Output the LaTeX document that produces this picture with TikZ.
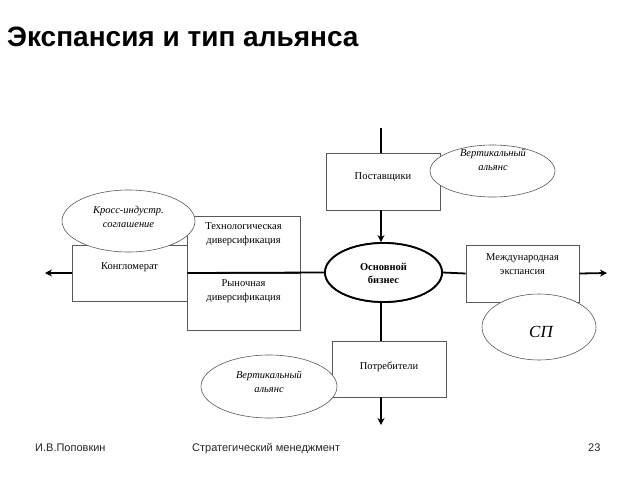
\documentclass[tikz,border=0pt]{standalone}
\usepackage{fontspec}
\setmainfont{Liberation Serif}
\newfontfamily\arialfont{Liberation Sans}
\usetikzlibrary{arrows.meta,shapes.geometric}
\begin{document}
\begin{tikzpicture}[x=1pt,y=-1pt,
  box/.style={draw=black!65,line width=0.6pt,fill=white,inner sep=0pt},
  oval/.style={ellipse,draw=black!65,line width=0.6pt,fill=white,inner sep=0pt},
  core/.style={ellipse,draw=black,line width=1.8pt,fill=white,inner sep=0pt},
  txt/.style={font=\fontsize{10.5}{14}\selectfont,align=center,inner sep=0pt},
  itxt/.style={font=\fontsize{10.5}{14}\selectfont\itshape,align=center,inner sep=0pt},
  conn/.style={line width=1.8pt,black},
  arr/.style={line width=1.8pt,black,-{Stealth[length=7pt,width=7pt]}},
  foot/.style={font=\arialfont\fontsize{11}{13}\selectfont,anchor=base west,inner sep=0pt,text=black!85}
]
\useasboundingbox (0,0) rectangle (640,480);
\fill[white] (0,0) rectangle (640,480);

% title and footer
\node[font=\arialfont\bfseries\fontsize{28}{32}\selectfont,anchor=base west,inner sep=0pt] (title) at (7,46) {Экспансия и тип альянса};
\node[foot] (f1) at (35,451) {И.В.Поповкин};
\node[foot] (f2) at (192,451) {Стратегический менеджмент};
\node[foot] (f3) at (588,451) {23};

% boxes
\node[box,minimum width=114pt,minimum height=57pt] (post) at (383,181.5) {};
\node[box,minimum width=115pt,minimum height=56pt] (kong) at (129.5,273) {};
\node[box,minimum width=113pt,minimum height=57pt] (tech) at (243.5,244.5) {};
\node[box,minimum width=113pt,minimum height=57pt] (ryn) at (243.5,301.5) {};
\node[box,minimum width=113pt,minimum height=57pt] (mezh) at (522.5,273.5) {};
\node[box,minimum width=114pt,minimum height=56pt] (potr) at (389,369) {};

% connectors
\coordinate (topin) at (381,128);
\coordinate (leftend) at (45,273);
\coordinate (rightend) at (607,273);
\coordinate (botend) at (381,425);
\node[core,minimum width=117pt,minimum height=59pt] (corebiz) at (383.5,272.5) {};
\draw[conn] (topin) -- (topin |- post.north);
\draw[arr] (topin |- post.south) -- (topin |- corebiz.north);
\draw[conn] (corebiz.west) -- (kong.east);
\draw[arr] (kong.west) -- (leftend);
\draw[conn] (corebiz.east) -- (mezh.west);
\draw[arr] (mezh.east) -- (rightend);
\draw[conn] (topin |- corebiz.south) -- (topin |- potr.north);
\draw[arr] (topin |- potr.south) -- (botend);
\node[core,minimum width=117pt,minimum height=59pt] (corebiz2) at (383.5,272.5) {};

% box texts
\node[txt] (postT) at (383,177) {Поставщики};
\node[txt] (kongT) at (129.5,267) {Конгломерат};
\node[txt] (techT) at (243.5,234) {Технологическая\\диверсификация};
\node[txt] (rynT) at (243.5,291.5) {Рыночная\\диверсификация};
\node[txt] (mezhT) at (522.5,264.5) {Международная\\экспансия};
\node[txt] (potrT) at (389,367) {Потребители};
\node[txt,font=\fontsize{10.5}{13}\selectfont\bfseries] (coreT) at (383.5,273) {Основной\\бизнес};

% ovals
\node[oval,minimum width=133pt,minimum height=62pt] (cross) at (128.5,221) {};
\node[itxt] (crossT) at (128.5,217) {Кросс-индустр.\\соглашение};
\node[oval,minimum width=125pt,minimum height=52pt] (vtop) at (492.5,171) {};
\node[itxt] (vtopT) at (493,160) {Вертикальный\\альянс};
\node[oval,minimum width=114pt,minimum height=66pt] (sp) at (539,327) {};
\node[itxt,font=\fontsize{17}{20}\selectfont\itshape] (spT) at (541,332) {СП};
\node[oval,minimum width=136pt,minimum height=63pt] (vbot) at (269,386.5) {};
\node[itxt] (vbotT) at (269,381.5) {Вертикальный\\альянс};
\end{tikzpicture}
\end{document}
